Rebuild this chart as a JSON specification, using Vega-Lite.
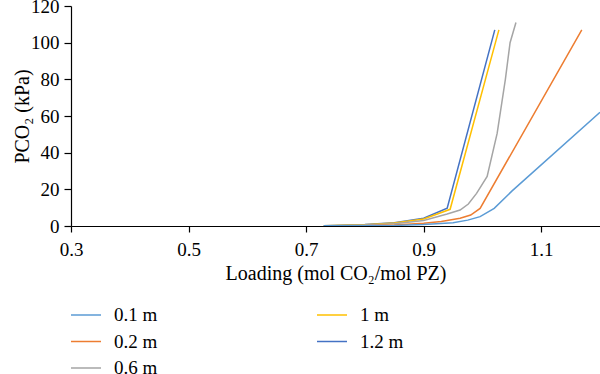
{
  "$schema": "https://vega.github.io/schema/vega-lite/v6.json",
  "width": 529,
  "height": 220,
  "autosize": {"type": "none"},
  "padding": {"left": 71, "top": 6, "right": 0, "bottom": 148},
  "background": "white",
  "config": {
    "font": "Liberation Serif",
    "view": {"stroke": null},
    "axis": {"labelFont": "Liberation Serif", "titleFont": "Liberation Serif", "labelColor": "black", "titleColor": "black", "domainColor": "black", "tickColor": "black", "labelFontSize": 19, "titleFontSize": 20, "titleFontWeight": "normal", "grid": false, "domainWidth": 1.2, "tickWidth": 1.2}
  },
  "data": {"values": [
    {"s": "1.2 m", "x": 0.73, "y": 0.2}, {"s": "1.2 m", "x": 0.8, "y": 0.8}, {"s": "1.2 m", "x": 0.85, "y": 1.8}, {"s": "1.2 m", "x": 0.9, "y": 4.2}, {"s": "1.2 m", "x": 0.94, "y": 9.7}, {"s": "1.2 m", "x": 1.021, "y": 107},
    {"s": "1 m", "x": 0.73, "y": 0.2}, {"s": "1 m", "x": 0.8, "y": 0.7}, {"s": "1 m", "x": 0.85, "y": 1.6}, {"s": "1 m", "x": 0.9, "y": 3.8}, {"s": "1 m", "x": 0.945, "y": 9.1}, {"s": "1 m", "x": 1.028, "y": 107},
    {"s": "0.6 m", "x": 0.75, "y": 0.2}, {"s": "0.6 m", "x": 0.8, "y": 0.5}, {"s": "0.6 m", "x": 0.85, "y": 1.2}, {"s": "0.6 m", "x": 0.9, "y": 3.0}, {"s": "0.6 m", "x": 0.94, "y": 6.5}, {"s": "0.6 m", "x": 0.962, "y": 8.7}, {"s": "0.6 m", "x": 0.976, "y": 12}, {"s": "0.6 m", "x": 0.99, "y": 17.8}, {"s": "0.6 m", "x": 1.008, "y": 27}, {"s": "0.6 m", "x": 1.025, "y": 50.5}, {"s": "0.6 m", "x": 1.039, "y": 80}, {"s": "0.6 m", "x": 1.047, "y": 100}, {"s": "0.6 m", "x": 1.057, "y": 111},
    {"s": "0.2 m", "x": 0.80, "y": 0.2}, {"s": "0.2 m", "x": 0.85, "y": 0.6}, {"s": "0.2 m", "x": 0.9, "y": 1.5}, {"s": "0.2 m", "x": 0.93, "y": 2.5}, {"s": "0.2 m", "x": 0.962, "y": 4.2}, {"s": "0.2 m", "x": 0.98, "y": 6}, {"s": "0.2 m", "x": 0.996, "y": 9.6}, {"s": "0.2 m", "x": 1.169, "y": 107},
    {"s": "0.1 m", "x": 0.73, "y": 0.1}, {"s": "0.1 m", "x": 0.85, "y": 0.3}, {"s": "0.1 m", "x": 0.9, "y": 0.8}, {"s": "0.1 m", "x": 0.95, "y": 1.8}, {"s": "0.1 m", "x": 0.975, "y": 3.2}, {"s": "0.1 m", "x": 0.996, "y": 5.1}, {"s": "0.1 m", "x": 1.02, "y": 9.6}, {"s": "0.1 m", "x": 1.05, "y": 19}, {"s": "0.1 m", "x": 1.2, "y": 62}
  ]},
  "mark": {"type": "line", "strokeWidth": 1.5, "clip": true},
  "encoding": {
    "x": {"field": "x", "type": "quantitative", "scale": {"domain": [0.3, 1.2], "nice": false, "zero": false},
      "axis": {"values": [0.3, 0.5, 0.7, 0.9, 1.1], "format": ".1f", "title": "Loading (mol CO₂/mol PZ)", "tickSize": 6, "labelPadding": 8, "titlePadding": 4, "labelFlush": false}},
    "y": {"field": "y", "type": "quantitative", "scale": {"domain": [0, 120], "nice": false},
      "axis": {"values": [0, 20, 40, 60, 80, 100, 120], "title": "PCO₂ (kPa)", "tickSize": 7, "labelPadding": 5, "titlePadding": -2}},
    "color": {"field": "s", "type": "nominal",
      "scale": {"domain": ["0.1 m", "0.2 m", "0.6 m", "1 m", "1.2 m"], "range": ["#5B9BD5", "#ED7D31", "#A5A5A5", "#FFC000", "#4472C4"]},
      "legend": {"title": null, "orient": "none", "legendX": -1, "legendY": 293, "columns": 2, "columnPadding": 156, "rowPadding": 0.5, "symbolType": "stroke", "symbolSize": 900, "symbolStrokeWidth": 1.5, "labelFontSize": 19, "labelFont": "Liberation Serif", "labelColor": "black", "labelOffset": 12, "padding": 0}}
  }
}
